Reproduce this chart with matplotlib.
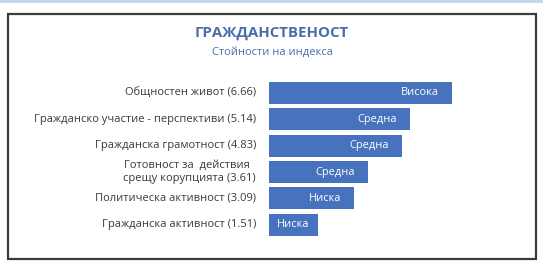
import matplotlib.pyplot as plt
from matplotlib.patches import Rectangle

# ---------- data ----------
labels = [
    "Общностен живот (6.66)",
    "Гражданско участие - перспективи (5.14)",
    "Гражданска грамотност (4.83)",
    "Готовност за  действия  \nсрещу корупцията (3.61)",
    "Политическа активност (3.09)",
    "Гражданска активност (1.51)",
]
values = [6.66, 5.14, 4.83, 3.61, 3.09, 1.51]
# bar lengths as drawn in the picture (the last bar is drawn longer than 1.51)
bar_lengths = [6.66, 5.14, 4.83, 3.61, 3.09, 1.78]
levels = ["Висока", "Средна", "Средна", "Средна", "Ниска", "Ниска"]

TITLE = "ГРАЖДАНСТВЕНОСТ"
SUBTITLE = "Стойности на индекса"

BAR_COLOR = "#4672BE"
TITLE_COLOR = "#4A6DAC"
TEXT_COLOR = "#3a3a3a"

plt.rcParams["font.family"] = ["Open Sans", "DejaVu Sans"]

W, H = 543, 273
fig = plt.figure(figsize=(W / 100, H / 100), dpi=100)

# light blue band at the top
fig.patches.append(Rectangle((0, 1 - 3 / H), 1, 3 / H, transform=fig.transFigure,
                             facecolor="#C5D8EF", edgecolor="none"))
# frame
fig.patches.append(Rectangle((8 / W, 1 - 259 / H), 528 / W, 245 / H,
                             transform=fig.transFigure, facecolor="none",
                             edgecolor="#3c3c3c", linewidth=1.6))

fig.text(272 / W, 1 - 33 / H, TITLE, ha="center", va="center",
         fontsize=10.8, fontweight="bold", color=TITLE_COLOR)
fig.text(272 / W, 1 - 52 / H, SUBTITLE, ha="center", va="center",
         fontsize=8, color=TITLE_COLOR)

# axes: 27.5 px per unit, bar rows 26.4 px apart
left_px, top_px, bottom_px = 269, 79.6, 238.0
ax = fig.add_axes([left_px / W, 1 - bottom_px / H, 275 / W, (bottom_px - top_px) / H])
ax.set_xlim(0, 10)
ax.set_ylim(len(values) - 0.5, -0.5)
ax.axis("off")

ypos = list(range(len(values)))
ax.barh(ypos, bar_lengths, height=0.83, color=BAR_COLOR)

for y, v, lab, lev in zip(ypos, bar_lengths, labels, levels):
    ax.annotate(lab, xy=(0, y), xytext=(-13, 0), textcoords="offset pixels",
                ha="right", va="center", fontsize=8, color=TEXT_COLOR,
                linespacing=1.15)
    bar_px = v * 27.5
    if bar_px > 60:
        ax.annotate(lev, xy=(v, y), xytext=(-13, 0), textcoords="offset pixels",
                    ha="right", va="center", fontsize=7.9, color="white")
    else:
        ax.text(v / 2, y, lev, ha="center", va="center", fontsize=7.9, color="white")

fig.savefig("out.png", dpi=100)
